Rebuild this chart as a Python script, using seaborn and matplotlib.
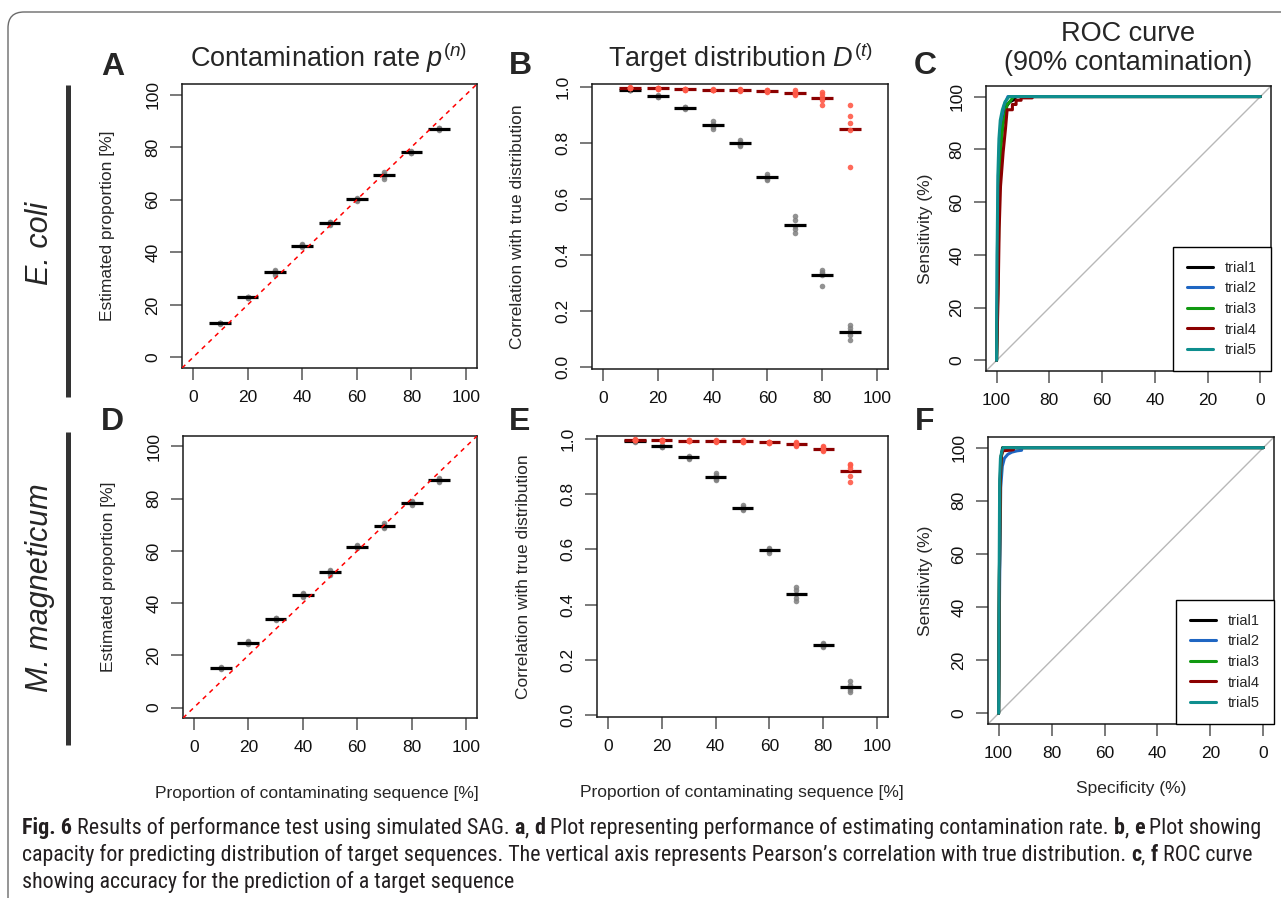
import matplotlib
matplotlib.use("Agg")
import matplotlib.pyplot as plt
import matplotlib.patches as mpatches
from matplotlib import font_manager
from matplotlib.lines import Line2D
from matplotlib.transforms import IdentityTransform
import numpy as np
import pandas as pd
import seaborn as sns

# ---------------------------------------------------------------- data
RATES = [10, 20, 30, 40, 50, 60, 70, 80, 90]

# panel A / D: estimated contamination proportion, 5 trials per rate
ecoli_est = [
    [12.9, 13.0, 13.1, 13.2, 13.3],
    [22.6, 22.8, 22.9, 23.0, 23.1],
    [31.4, 32.3, 32.6, 33.0, 33.2],
    [42.0, 42.3, 42.6, 42.8, 43.1],
    [50.2, 50.7, 51.0, 51.4, 51.7],
    [59.5, 59.9, 60.1, 60.4, 60.8],
    [67.9, 68.6, 69.3, 69.9, 70.4],
    [77.6, 77.9, 78.1, 78.3, 78.5],
    [86.5, 86.8, 87.0, 87.1, 87.3],
]
mmag_est = [
    [14.8, 15.0, 15.2, 15.3, 15.5],
    [24.2, 24.7, 25.0, 25.2, 25.4],
    [33.7, 33.9, 34.1, 34.2, 34.4],
    [42.2, 42.9, 43.3, 43.6, 44.0],
    [50.8, 51.4, 51.8, 52.2, 52.6],
    [61.0, 61.4, 61.7, 62.0, 62.3],
    [68.8, 69.3, 69.7, 70.1, 70.6],
    [77.6, 78.2, 78.5, 78.8, 79.2],
    [86.4, 86.9, 87.2, 87.5, 88.0],
]

# panel B / E: correlation with true distribution (black = raw, red = estimated)
ecoli_raw = [
    [0.988, 0.989, 0.990, 0.991, 0.992],
    [0.963, 0.966, 0.967, 0.968, 0.971],
    [0.922, 0.924, 0.926, 0.928, 0.930],
    [0.852, 0.858, 0.862, 0.869, 0.879],
    [0.788, 0.794, 0.798, 0.803, 0.812],
    [0.668, 0.673, 0.678, 0.683, 0.688],
    [0.480, 0.492, 0.505, 0.524, 0.539],
    [0.290, 0.330, 0.335, 0.340, 0.345],
    [0.098, 0.115, 0.130, 0.140, 0.150],
]
ecoli_pred = [
    [0.996, 0.997, 0.997, 0.998, 0.999],
    [0.993, 0.994, 0.995, 0.996, 0.997],
    [0.990, 0.991, 0.992, 0.993, 0.994],
    [0.988, 0.989, 0.990, 0.991, 0.992],
    [0.986, 0.988, 0.989, 0.990, 0.992],
    [0.983, 0.985, 0.987, 0.989, 0.991],
    [0.972, 0.976, 0.980, 0.984, 0.988],
    [0.935, 0.955, 0.965, 0.975, 0.982],
    [0.715, 0.845, 0.870, 0.895, 0.935],
]
mmag_raw = [
    [0.991, 0.992, 0.993, 0.994, 0.995],
    [0.970, 0.972, 0.974, 0.976, 0.978],
    [0.929, 0.932, 0.934, 0.936, 0.939],
    [0.850, 0.856, 0.862, 0.868, 0.876],
    [0.742, 0.747, 0.751, 0.755, 0.760],
    [0.588, 0.593, 0.597, 0.601, 0.606],
    [0.412, 0.425, 0.440, 0.452, 0.463],
    [0.246, 0.250, 0.253, 0.256, 0.260],
    [0.085, 0.092, 0.098, 0.110, 0.125],
]
mmag_pred = [
    [0.996, 0.997, 0.997, 0.998, 0.999],
    [0.993, 0.994, 0.995, 0.996, 0.997],
    [0.992, 0.993, 0.994, 0.995, 0.996],
    [0.991, 0.992, 0.993, 0.994, 0.995],
    [0.989, 0.991, 0.992, 0.993, 0.995],
    [0.985, 0.987, 0.988, 0.989, 0.991],
    [0.976, 0.980, 0.983, 0.986, 0.990],
    [0.955, 0.960, 0.965, 0.970, 0.975],
    [0.845, 0.865, 0.895, 0.905, 0.910],
]

# panel C / F: ROC curves (specificity %, sensitivity %)
TRIALS = ["trial1", "trial2", "trial3", "trial4", "trial5"]
TRIAL_COLORS = ["#000000", "#1f66c2", "#119911", "#8b0000", "#0e8e8e"]

ecoli_spec = [
    [100, 99.6, 99.2, 98.8, 98.2, 97.5, 96.5, 95.0, 93.0, 93.0, 0],
    [100, 99.7, 99.3, 98.8, 98.0, 97.0, 95.7, 0],
    [100, 99.5, 99.0, 98.4, 97.6, 96.5, 96.0, 95.0, 93.5, 0],
    [100, 99.4, 99.0, 98.5, 97.5, 96.6, 96.0, 94.0, 94.0, 92.6, 92.6, 90.7, 90.7, 86.5, 86.5, 0],
    [100, 99.8, 99.5, 99.1, 98.6, 97.8, 96.8, 95.3, 0],
]
ecoli_sens = [
    [0, 30, 60, 78, 88, 93, 96, 98, 99, 100, 100],
    [0, 40, 70, 85, 92, 97, 100, 100],
    [0, 30, 62, 80, 89, 94, 97, 98, 100, 100],
    [0, 25, 50, 66, 79, 88, 95, 95, 97, 97, 98.6, 98.6, 99.5, 99.5, 100, 100],
    [0, 40, 70, 84, 91, 95, 98, 100, 100],
]
mmag_spec = [
    [100, 99.7, 99.4, 99.0, 98.5, 0],
    [100, 99.6, 99.2, 98.6, 97.8, 96.5, 95.0, 93.0, 91.3, 91.3, 0],
    [100, 99.7, 99.4, 99.0, 98.1, 0],
    [100, 99.7, 99.4, 99.0, 98.5, 96.0, 94.4, 94.4, 0],
    [100, 99.8, 99.6, 99.3, 98.8, 98.3, 0],
]
mmag_sens = [
    [0, 50, 85, 96, 100, 100],
    [0, 50, 85, 93, 96, 97.5, 98.3, 98.8, 99, 100, 100],
    [0, 50, 85, 97, 100, 100],
    [0, 50, 88, 97, 98.8, 99, 99.2, 100, 100],
    [0, 50, 88, 96, 98.5, 100, 100],
]

CAPTION = [
    [("Fig. 6", True), (" Results of performance test using simulated SAG. ", False),
     ("a", True), (", ", False), ("d", True),
     (" Plot representing performance of estimating contamination rate. ", False),
     ("b", True), (", ", False), ("e", True), (" Plot showing", False)],
    [("capacity for predicting distribution of target sequences. The vertical axis "
      "represents Pearson\u2019s correlation with true distribution. ", False),
     ("c", True), (", ", False), ("f", True), (" ROC curve", False)],
    [("showing accuracy for the prediction of a target sequence", False)],
]

# ---------------------------------------------------------------- style
W, H, DPI = 1281, 898, 100
sns.set_style("ticks")
plt.rcParams["font.family"] = ["Liberation Sans", "DejaVu Sans"]
plt.rcParams["mathtext.fontset"] = "custom"
plt.rcParams["mathtext.rm"] = "Liberation Sans"
plt.rcParams["mathtext.it"] = "Liberation Sans:italic"

TICK_FS = 12.5
LABEL_FS = 12.5
TITLE_FS = 19.5

fig = plt.figure(figsize=(W / DPI, H / DPI), dpi=DPI)
fig.patch.set_facecolor("white")


def px_axes(left, right, top, bottom):
    return fig.add_axes([left / W, 1 - bottom / H, (right - left) / W, (bottom - top) / H])


def style_axes(ax, ticks, fmt="{:d}"):
    ax.set_facecolor("white")
    for s in ax.spines.values():
        s.set_visible(True)
        s.set_color("#1a1a1a")
        s.set_linewidth(1.1)
    ax.set_xticks(ticks[0])
    ax.set_xticklabels([str(t) for t in ticks[0]])
    ax.set_yticks(ticks[1])
    ax.set_yticklabels([fmt.format(t) for t in ticks[1]])
    ax.tick_params(direction="out", length=8.6, width=1.1, color="#555555",
                   labelsize=TICK_FS, labelcolor="#111111", pad=7,
                   bottom=True, left=True, top=False, right=False)
    plt.setp(ax.get_yticklabels(), rotation=90, va="center", ha="right")


def long_frame(values):
    rows = [(r, v) for r, vals in zip(RATES, values) for v in vals]
    return pd.DataFrame(rows, columns=["rate", "value"])


def mean_bars(ax, df, color):
    m = df.groupby("rate")["value"].mean()
    ax.hlines(m.values, m.index - 4, m.index + 4, color=color, lw=2.3, zorder=3)


def contamination_panel(ax, values):
    df = long_frame(values)
    sns.scatterplot(data=df, x="rate", y="value", color="#7f7f7f", s=16,
                    linewidth=0, alpha=0.85, legend=False, ax=ax, zorder=2)
    mean_bars(ax, df, "black")
    ax.axline((0, 0), (100, 100), color="red", ls=(0, (3, 3)), lw=1.1, zorder=4)
    ax.set_xlim(-4, 104)
    ax.set_ylim(-4, 104)
    style_axes(ax, (list(range(0, 101, 20)), list(range(0, 101, 20))))
    ax.set_xlabel("")
    ax.set_ylabel("Estimated proportion [%]", fontsize=LABEL_FS, va="center")


def target_panel(ax, raw, pred):
    df_raw = long_frame(raw)
    df_pred = long_frame(pred)
    sns.scatterplot(data=df_raw, x="rate", y="value", color="#7f7f7f", s=16,
                    linewidth=0, alpha=0.85, legend=False, ax=ax, zorder=2)
    mean_bars(ax, df_raw, "black")
    sns.scatterplot(data=df_pred, x="rate", y="value", color="#ff5a48", s=16,
                    linewidth=0, alpha=0.9, legend=False, ax=ax, zorder=4)
    mean_bars(ax, df_pred, "#8b0000")
    ax.set_xlim(-4, 104)
    ax.set_ylim(-0.0072, 1.011)
    style_axes(ax, (list(range(0, 101, 20)), [0.0, 0.2, 0.4, 0.6, 0.8, 1.0]), fmt="{:.1f}")
    ax.set_xlabel("")
    ax.set_ylabel("Correlation with true distribution", fontsize=LABEL_FS, va="center")


def roc_panel(ax, specs, senss):
    ax.axline((100, 0), (0, 100), color="#b8b8b8", lw=1.0, zorder=1)
    for name, col, sp, se in zip(TRIALS, TRIAL_COLORS, specs, senss):
        df = pd.DataFrame({"spec": sp, "sens": se})
        sns.lineplot(data=df, x="spec", y="sens", sort=False, estimator=None,
                     color=col, lw=2.2, label=name, ax=ax, zorder=3)
    ax.set_xlim(104, -4)
    ax.set_ylim(-4, 104)
    style_axes(ax, ([100, 80, 60, 40, 20, 0], [0, 20, 40, 60, 80, 100]))
    ax.set_xlabel("")
    ax.set_ylabel("Sensitivity (%)", fontsize=LABEL_FS, va="center")
    leg = ax.legend(loc="lower right", borderaxespad=0, fancybox=False,
                    framealpha=1, edgecolor="black", fontsize=10.5,
                    handlelength=1.8, handletextpad=0.85, labelspacing=0.45,
                    borderpad=0.95)
    leg.get_frame().set_linewidth(1.0)
    for h in leg.get_lines():
        h.set_linewidth(2.2)


# ---------------------------------------------------------------- panels
axA = px_axes(182, 477, 84, 368)
axB = px_axes(592, 888, 84, 369)
axC = px_axes(986, 1271, 86, 371)
axD = px_axes(183, 477, 436, 718)
axE = px_axes(597, 888, 436, 717)
axF = px_axes(988, 1274, 437, 724)

contamination_panel(axA, ecoli_est)
contamination_panel(axD, mmag_est)
target_panel(axB, ecoli_raw, ecoli_pred)
target_panel(axE, mmag_raw, mmag_pred)
roc_panel(axC, ecoli_spec, ecoli_sens)
roc_panel(axF, mmag_spec, mmag_sens)

axA.yaxis.set_label_coords(-0.251, 0.5)
axB.yaxis.set_label_coords(-0.250, 0.5)
axC.yaxis.set_label_coords(-0.214, 0.5)
axD.yaxis.set_label_coords(-0.255, 0.5)
axE.yaxis.set_label_coords(-0.254, 0.5)
axF.yaxis.set_label_coords(-0.217, 0.5)

axD.set_xlabel("Proportion of contaminating sequence [%]", fontsize=LABEL_FS, va="center")
axD.xaxis.set_label_coords(0.455, -0.266)
axE.set_xlabel("Proportion of contaminating sequence [%]", fontsize=LABEL_FS, va="center")
axE.xaxis.set_label_coords(0.498, -0.270)
axF.set_xlabel("Specificity (%)", fontsize=LABEL_FS, va="center")
axF.xaxis.set_label_coords(0.5, -0.223)


def fig_text(x, y, s, **kw):
    return fig.text(x / W, 1 - y / H, s, **kw)


# column titles
fig_text(329, 67, r"Contamination rate $p^{(n)}$", fontsize=TITLE_FS, ha="center", va="baseline")
fig_text(740, 67, r"Target distribution $D^{(t)}$", fontsize=TITLE_FS, ha="center", va="baseline")
# multi-line text: 'baseline' anchors the last line
fig_text(1128, 70, "ROC curve\n(90% contamination)", fontsize=TITLE_FS,
         ha="center", va="baseline", multialignment="center", linespacing=1.15)

# panel letters
for letter, x, y in [("A", 101, 75), ("B", 509, 74), ("C", 914, 74),
                     ("D", 101, 430), ("E", 509, 430), ("F", 915, 430)]:
    fig_text(x, y, letter, fontsize=23, fontweight="bold", ha="left", va="baseline")

# species labels with side bars
fig_text(40, 243, "E. coli", fontsize=22, style="italic", rotation=90, ha="center", va="center")
fig_text(40, 588, "M. magneticum", fontsize=22, style="italic", rotation=90, ha="center", va="center")
for y0, y1 in [(85, 397), (432, 745)]:
    fig.add_artist(Line2D([68 / W, 68 / W], [1 - y0 / H, 1 - y1 / H], color="#333333",
                          lw=3.6, solid_capstyle="butt", transform=fig.transFigure))

# outer rounded frame
frame = mpatches.FancyBboxPatch((8, -40), 1340, H - 12 + 40,
                                boxstyle="round,pad=0,rounding_size=16",
                                transform=IdentityTransform(), fill=False,
                                edgecolor="#6b6b6b", lw=1.0)
fig.add_artist(frame)

# caption with mixed bold / regular runs
names = {f.name for f in font_manager.fontManager.ttflist}
cap_font = next((n for n in ["Liberation Sans Narrow", "DejaVu Sans Condensed",
                             "Roboto Condensed", "Liberation Sans"] if n in names), "DejaVu Sans")
renderer = fig.canvas.get_renderer()


def advance(s, size, bold):
    kw = dict(fontsize=size, family=cap_font, fontweight="bold" if bold else "normal")
    t1 = fig.text(0, 0, "|" + s + "|", **kw)
    t2 = fig.text(0, 0, "||", **kw)
    w = t1.get_window_extent(renderer).width - t2.get_window_extent(renderer).width
    t1.remove()
    t2.remove()
    return w


base = 12.0
line1 = sum(advance(s, base, b) for s, b in CAPTION[0])
cap_size = base * (1240 / line1)
for line, yb in zip(CAPTION, [834, 861, 888]):
    x = 22
    for s, b in line:
        fig_text(x, yb, s, fontsize=cap_size, family=cap_font,
                 fontweight="bold" if b else "normal", color="#231f20",
                 ha="left", va="baseline")
        x += advance(s, cap_size, b)

fig.savefig("out.png", dpi=DPI, facecolor="white")
